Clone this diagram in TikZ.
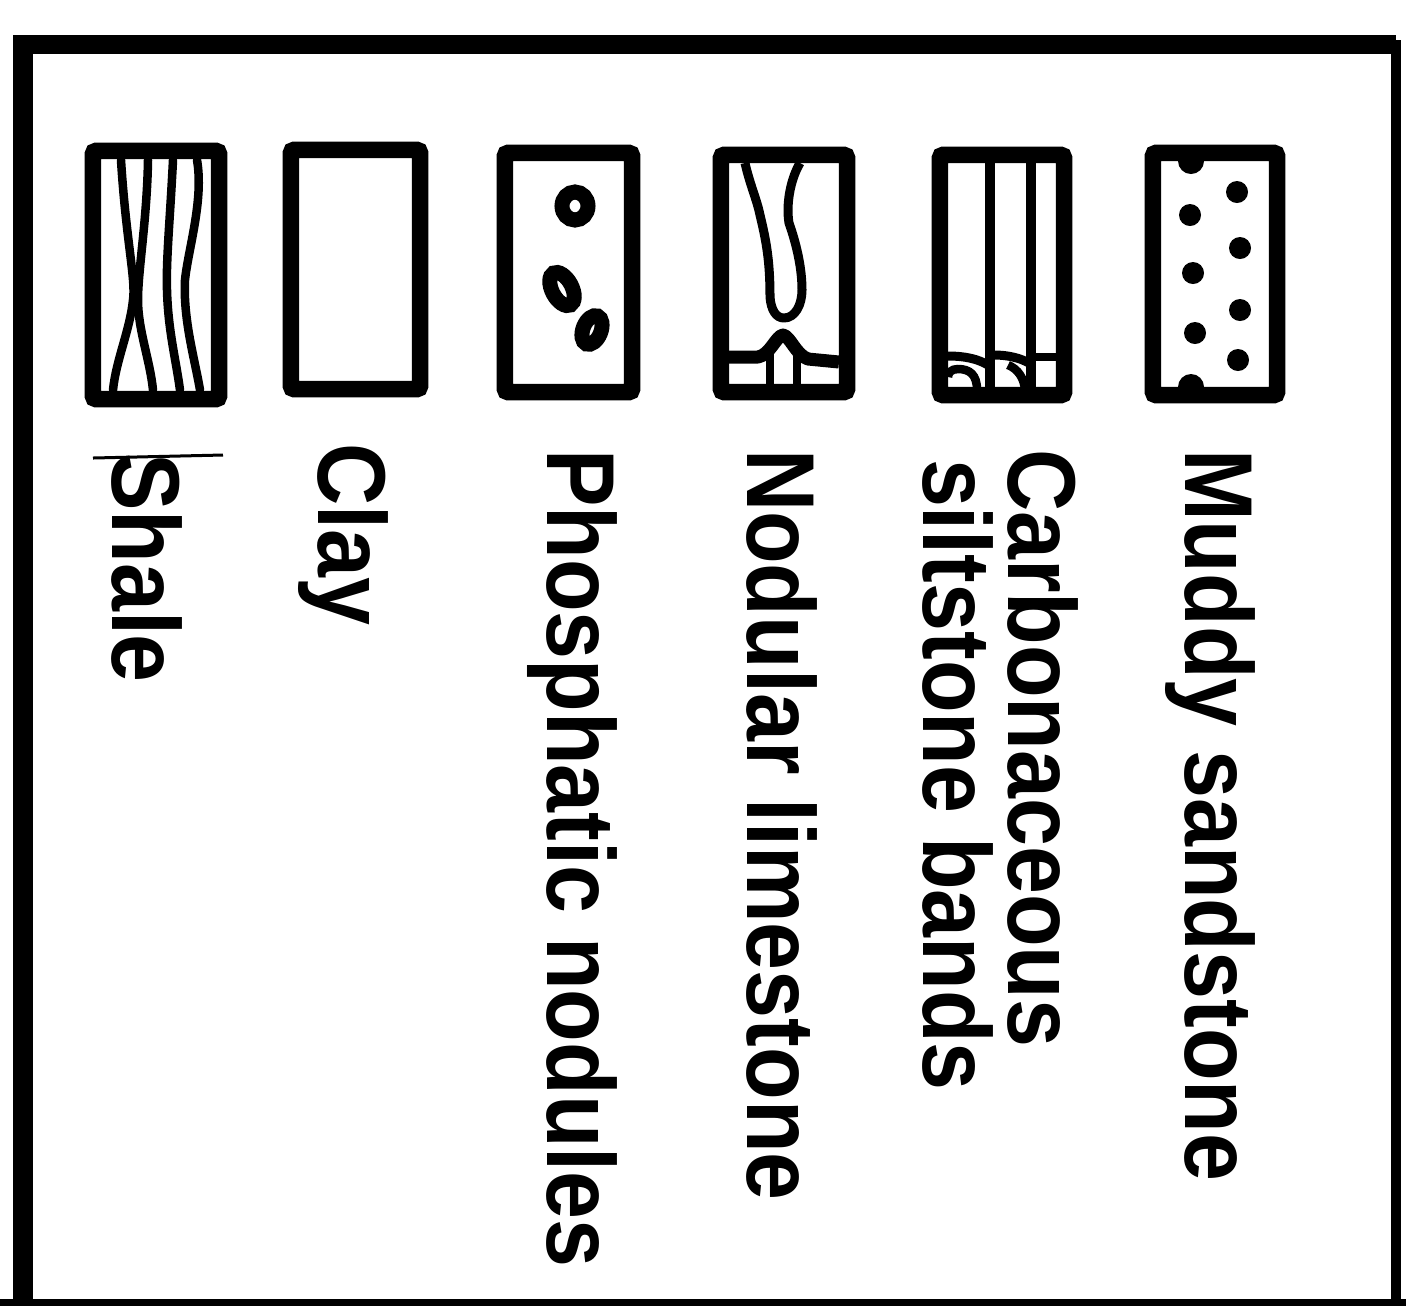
\documentclass[tikz,border=0pt]{standalone}
\usepackage{fontspec}
\setmainfont{Liberation Sans}
\begin{document}
\begin{tikzpicture}[x=0.01cm,y=-0.01cm,
  sym/.style={draw, line width=0.165cm, rounded corners=0.03cm, inner sep=0pt, outer sep=0pt},
  lbl/.style={rotate=-90, anchor=base west, inner sep=0pt, outer sep=0pt, font=\bfseries\fontsize{24.5pt}{28pt}\selectfont},
  pat/.style={line width=0.085cm, line cap=round, line join=round},
  ring/.style={line width=0.15cm},
  dot/.style={fill=black}]
\useasboundingbox (0,0) rectangle (1406,1305);
\fill[white] (0,0) rectangle (1406,1305);
% frame
\draw[line width=0.19cm] (23,1310) -- (23,44) -- (1396,44);
\draw[line width=0.1cm] (1396,40) -- (1396,1310);
\draw[line width=0.07cm] (0,1302) -- (1406,1302);

% symbol boxes
\node[sym, minimum width=1.26cm, minimum height=2.48cm] (shalebox) at (156,275) {};
\node[sym, minimum width=1.29cm, minimum height=2.39cm] (claybox) at (355.5,269.5) {};
\node[sym, minimum width=1.27cm, minimum height=2.39cm] (phosbox) at (568.5,272.5) {};
\node[sym, minimum width=1.26cm, minimum height=2.37cm] (nodbox) at (784,273.5) {};
\node[sym, minimum width=1.24cm, minimum height=2.40cm] (carbbox) at (1002,275) {};
\node[sym, minimum width=1.24cm, minimum height=2.42cm] (mudbox) at (1215,274) {};

% shale pattern
\draw[pat] (121,160) .. controls (126,240) and (136,280) .. (133,300) .. controls (130,330) and (116,360) .. (113,390);
\draw[pat] (148,160) .. controls (147,220) and (138,270) .. (138,300) .. controls (138,330) and (150,360) .. (153,390);
\draw[pat] (173,160) .. controls (170,220) and (166,260) .. (167,290) .. controls (168,330) and (176,360) .. (180,390);
\draw[pat] (197,160) .. controls (204,200) and (188,250) .. (185,280) .. controls (183,320) and (195,360) .. (200,390);

% phosphatic nodules
\draw[ring] (575,206) ellipse [x radius=13, y radius=14];
\draw[ring, rotate around={-62:(562,289)}] (562,289) ellipse [x radius=18, y radius=10];
\draw[ring, rotate around={68:(592,330)}] (592,330) ellipse [x radius=15, y radius=9];

% nodular limestone
\draw[line width=0.09cm, line join=round] (745,163) .. controls (750,185) and (757,200) .. (760,215)
  .. controls (766,240) and (770,260) .. (770,297)
  .. controls (771,310) and (776,318) .. (784,318)
  .. controls (795,318) and (802,305) .. (802,290)
  .. controls (802,265) and (795,240) .. (789,223)
  .. controls (786,205) and (790,180) .. (800,163);
\draw[line width=0.13cm, line join=round] (729,357) -- (758,357) .. controls (770,355) and (776,336) .. (783,335)
  .. controls (790,336) and (796,355) .. (808,359) -- (839,362);
\draw[line width=0.08cm] (770,350) -- (770,388);
\draw[line width=0.08cm] (797,350) -- (797,388);

% carbonaceous siltstone bands
\draw[line width=0.095cm] (990,160) -- (990,390);
\draw[line width=0.095cm] (1031,160) -- (1031,390);
\draw[line width=0.09cm] (948,356) .. controls (965,356) and (978,359) .. (988,365);
\draw[line width=0.085cm] (977,390) .. controls (977,375) and (970,369) .. (958,369) .. controls (951,369) and (948,373) .. (948,377);
\draw[line width=0.09cm] (994,355) .. controls (1008,355) and (1020,358) .. (1029,363);
\draw[line width=0.085cm] (1008,365) .. controls (1018,369) and (1024,378) .. (1025,390);
\draw[line width=0.08cm] (1034,357) -- (1058,357);

% muddy sandstone dots
\fill[dot] (1237,192) circle [radius=11];
\fill[dot] (1190,215) circle [radius=11];
\fill[dot] (1240,248) circle [radius=11];
\fill[dot] (1193,273) circle [radius=11];
\fill[dot] (1240,310) circle [radius=11];
\fill[dot] (1195,333) circle [radius=11];
\fill[dot] (1238,360) circle [radius=11];
\fill[dot] (1191,161) circle [radius=13];
\fill[dot] (1191,387) circle [radius=13];

% stray mark near Shale
\draw[line width=0.03cm] (93,458) -- (223,455);

% labels
\node[lbl] (shale) at (112,453) {\scalebox{1}[1.12]{Shale}};
\node[lbl] (clay) at (318,443) {\scalebox{1}[1.12]{Clay}};
\node[lbl] (phos) at (547,449) {\scalebox{1}[1.12]{Phosphatic nodules}};
\node[lbl] (nod) at (747,449) {\scalebox{1}[1.12]{Nodular limestone}};
\node[lbl] (carb) at (1008,449) {\scalebox{1}[1.12]{Carbonaceous}};
\node[lbl] (silt) at (923,459) {\scalebox{1}[1.12]{siltstone bands}};
\node[lbl] (mud) at (1185,449) {\scalebox{1}[1.12]{Muddy sandstone}};
\end{tikzpicture}
\end{document}
